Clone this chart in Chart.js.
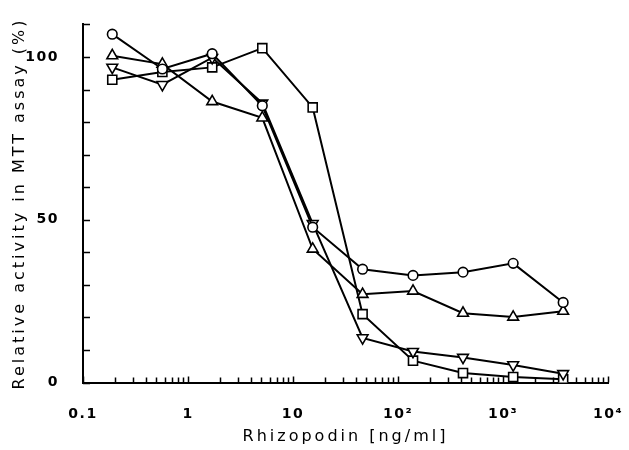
<!DOCTYPE html>
<html>
<head>
<meta charset="utf-8">
<script src="https://cdn.jsdelivr.net/npm/chart.js@4/dist/chart.umd.min.js"></script>
<style>
  body { margin: 0; background: #fff; }
  #wrap { width: 629px; height: 450px; }
</style>
</head>
<body>
<div id="wrap"><canvas id="mtt-chart"></canvas></div>
<script>
// rhizopodin concentration (ng/ml), 3-fold dilutions
var concentrations = [0.19, 0.57, 1.7, 5.1, 15.4, 46, 139, 416, 1250, 3740];

// relative activity (%) per cell line
var circleValues = [107, 96.3, 101, 85, 47.7, 34.8, 32.9, 33.9, 36.6, 24.6];
var triangleUpValues = [100.4, 97.8, 86.3, 81.3, 41, 27.1, 28.1, 21.3, 20.1, 21.9];
var triangleDownValues = [96.8, 91.5, 99.8, 85.8, 48.8, 13.7, 9.5, 7.7, 5.4, 2.7];
var squareValues = [93, 95.4, 96.8, 102.7, 84.5, 21, 6.7, 2.9, 1.7, 1.0];

var xTickValues = [0.1, 1, 10, 100, 1000, 10000];
var xTickLabels = ['0.1', '1', '10', '10\u00B2', '10\u00B3', '10\u2074'];
var yLabelValues = [0, 50, 100];

function toPoints(values) {
    return values.map(function (v, i) {
        return { x: concentrations[i], y: v };
    });
}

function makeDataset(label, values, style, radius, rotation) {
    return {
        label: label,
        data: toPoints(values),
        borderColor: '#000',
        borderWidth: 2,
        backgroundColor: '#fff',
        pointStyle: style,
        pointRadius: radius,
        pointRotation: rotation || 0,
        pointBorderWidth: 1.6,
        pointBackgroundColor: '#fff',
        pointBorderColor: '#000',
        tension: 0
    };
}

// titles get wide spacing, tick labels a bit less
function spaceLabels(scale) {
    if (scale._spaced) return;
    scale._spaced = true;
    var orig = scale.drawLabels;
    scale.drawLabels = function (area) {
        this.ctx.letterSpacing = '1.5px';
        orig.call(this, area);
        this.ctx.letterSpacing = '3px';
    };
}

var spacingPlugin = {
    id: 'spacing',
    beforeDraw: function (chart) {
        chart.ctx.letterSpacing = '3px';
    }
};

// inward tick marks on both axes
var innerTicksPlugin = {
    id: 'innerTicks',
    beforeDatasetsDraw: function (chart) {
        var ctx = chart.ctx;
        var xs = chart.scales.x;
        var ys = chart.scales.y;
        var area = chart.chartArea;
        ctx.save();
        ctx.strokeStyle = '#000';
        ctx.lineWidth = 1.5;
        ctx.beginPath();
        for (var v = 0; v <= 110; v += 10) {
            var py = Math.round(ys.getPixelForValue(v)) + 0.5;
            ctx.moveTo(area.left, py);
            ctx.lineTo(area.left + 7, py);
        }
        for (var e = -1; e <= 4; e++) {
            var base = Math.pow(10, e);
            for (var k = 1; k <= 9; k++) {
                var val = base * k;
                if (val > 10000) break;
                var px = Math.round(xs.getPixelForValue(val)) + 0.5;
                var len = k === 1 ? 6 : 5;
                ctx.moveTo(px, area.bottom);
                ctx.lineTo(px, area.bottom - len);
            }
        }
        ctx.stroke();
        ctx.restore();
    }
};

var ctx = document.getElementById('mtt-chart').getContext('2d');

var mttChart = new Chart(ctx, {
    type: 'line',
    data: {
        datasets: [
            makeDataset('circle', circleValues, 'circle', 4.8),
            makeDataset('triangle up', triangleUpValues, 'triangle', 6.2),
            makeDataset('triangle down', triangleDownValues, 'triangle', 6.2, 180),
            makeDataset('square', squareValues, 'rect', 6.4)
        ]
    },
    options: {
        responsive: true,
        maintainAspectRatio: false,
        animation: false,
        layout: {
            padding: { left: 0, right: 0, top: 14, bottom: 0 }
        },
        plugins: {
            legend: { display: false },
            tooltip: { enabled: false }
        },
        scales: {
            x: {
                type: 'logarithmic',
                min: 0.1,
                max: 10000,
                afterBuildTicks: function (scale) {
                    scale.ticks = xTickValues.map(function (v) { return { value: v }; });
                },
                afterFit: function (scale) {
                    scale.height = 67.5;
                    scale.paddingLeft = 0;
                    scale.paddingRight = 21;
                    spaceLabels(scale);
                },
                grid: { display: false },
                border: { display: true, color: '#000', width: 2 },
                ticks: {
                    autoSkip: false,
                    maxRotation: 0,
                    padding: 15,
                    color: '#000',
                    font: { family: 'DejaVu Sans', size: 14, weight: 'bold' },
                    callback: function (value) {
                        var i = xTickValues.indexOf(value);
                        return i >= 0 ? xTickLabels[i] : '';
                    }
                },
                title: {
                    display: true,
                    text: 'Rhizopodin [ng/ml]',
                    color: '#000',
                    font: { family: 'DejaVu Sans', size: 16 },
                    padding: { top: 0, bottom: 4 }
                }
            },
            y: {
                min: 0,
                max: 110,
                afterBuildTicks: function (scale) {
                    scale.ticks = yLabelValues.map(function (v) { return { value: v }; });
                },
                afterFit: function (scale) {
                    scale.width = 83;
                    spaceLabels(scale);
                },
                grid: { display: false },
                border: { display: true, color: '#000', width: 2 },
                ticks: {
                    padding: 16,
                    color: '#000',
                    font: { family: 'DejaVu Sans', size: 14, weight: 'bold' }
                },
                title: {
                    display: true,
                    text: 'Relative activity in MTT assay (%)',
                    color: '#000',
                    font: { family: 'DejaVu Sans', size: 16 },
                    padding: { top: 10, bottom: 0 }
                }
            }
        }
    },
    plugins: [spacingPlugin, innerTicksPlugin]
});
</script>
</body>
</html>
